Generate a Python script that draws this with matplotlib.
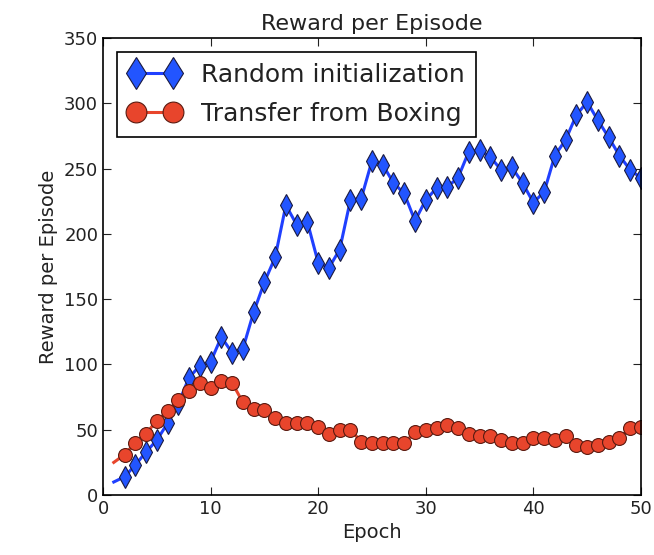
import numpy as np
import matplotlib
matplotlib.use('Agg')
import matplotlib.pyplot as plt

plt.rcParams['font.family'] = ['DejaVu Sans']

# reward per episode, epochs 1..50
epochs = np.arange(1, 51)
random_init = [10, 14, 23, 33, 42, 55, 70, 90, 99, 102,
               121, 109, 112, 140, 163, 182, 222, 207, 209, 178,
               174, 188, 226, 227, 256, 253, 239, 231, 210, 226,
               235, 236, 243, 263, 264, 259, 249, 251, 239, 224,
               232, 260, 272, 291, 301, 287, 274, 260, 249, 243]
transfer_boxing = [25, 31, 40, 47, 57, 64, 73, 80, 86, 82,
                   87, 86, 71, 66, 65, 59, 55, 55, 55, 52,
                   47, 50, 50, 41, 40, 40, 40, 40, 48, 50,
                   51, 54, 51, 47, 45, 45, 42, 40, 40, 44,
                   44, 42, 45, 38, 37, 38, 41, 44, 51, 52]

fig = plt.figure(figsize=(6.54, 5.55), dpi=100)
ax = fig.add_axes([0.1575, 0.108, 0.8225, 0.8235])

ax.plot(epochs, random_init, color='#2040ff', lw=2.2, marker='d', ms=11,
        mfc='#2255ff', mec='#1a1a40', mew=0.8, markevery=slice(1, None),
        label='Random initialization')
ax.plot(epochs, transfer_boxing, color='#e8452c', lw=2.2, marker='o', ms=10,
        mfc='#e8452c', mec='#5a1a10', mew=0.8, markevery=slice(1, None),
        label='Transfer from Boxing')

ax.set_xlim(0, 50)
ax.set_ylim(0, 350)
ax.set_xticks([0, 10, 20, 30, 40, 50])
ax.set_yticks(range(0, 351, 50))
ax.tick_params(direction='in', top=True, right=True, length=6, labelsize=13,
               colors='#222222')
for s in ax.spines.values():
    s.set_linewidth(1.2)

ax.set_title('Reward per Episode', fontsize=16, color='#222222')
ax.set_xlabel('Epoch', fontsize=14, color='#222222')
ax.set_ylabel('Reward per Episode', fontsize=14, color='#222222')

leg = ax.legend(loc='upper left', numpoints=2, fontsize=18, handlelength=2.1,
                markerscale=1.5, fancybox=False, framealpha=1,
                borderaxespad=0.55, borderpad=0.45, handletextpad=0.8,
                labelspacing=0.6)
leg.get_frame().set_edgecolor('black')
leg.get_frame().set_linewidth(1.2)
for t in leg.get_texts():
    t.set_color('#222222')

fig.savefig('out.png', dpi=100)
